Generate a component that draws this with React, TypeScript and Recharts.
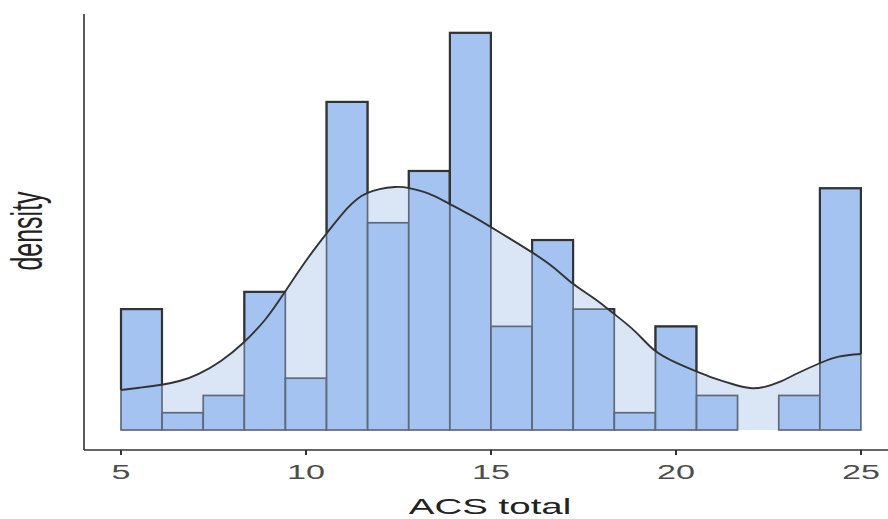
import React from 'react';
import { ComposedChart, XAxis, YAxis, Bar, Area, Line } from 'recharts';

// Histogram bins (ACS total), 18 bins from 5 to 25
const binLabels = ['5.0–6.1', '6.1–7.2', '7.2–8.3', '8.3–9.4', '9.4–10.6', '10.6–11.7', '11.7–12.8', '12.8–13.9', '13.9–15.0', '15.0–16.1', '16.1–17.2', '17.2–18.3', '18.3–19.4', '19.4–20.6', '20.6–21.7', '21.7–22.8', '22.8–23.9', '23.9–25.0'];
const binStarts = [5.0, 6.11, 7.22, 8.33, 9.44, 10.56, 11.67, 12.78, 13.89, 15.0, 16.11, 17.22, 18.33, 19.44, 20.56, 21.67, 22.78, 23.89];
const binCounts = [7, 1, 2, 8, 3, 19, 12, 15, 23, 6, 11, 7, 1, 6, 2, 0, 2, 14];
const binWidth = 20 / 18;

// Density curve (scaled to count units)
const densityX = [5.0, 5.5, 6.1, 6.6, 7.1, 7.7, 8.3, 8.9, 9.4, 10.0, 10.6, 11.1, 11.65, 12.4, 12.8, 13.3, 13.84, 14.4, 15.0, 15.5, 16.1, 16.7, 17.2, 17.8, 18.3, 18.9, 19.4, 20.0, 20.6, 21.0, 21.5, 22.0, 22.4, 22.8, 23.3, 23.9, 24.4, 25.0];
const densityY = [2.32, 2.45, 2.62, 2.85, 3.25, 4.0, 5.04, 6.4, 7.9, 9.8, 11.5, 12.8, 13.72, 14.07, 14.0, 13.7, 13.14, 12.5, 11.75, 11.1, 10.3, 9.4, 8.5, 7.6, 6.77, 5.7, 4.65, 3.9, 3.35, 3.02, 2.68, 2.43, 2.5, 2.78, 3.3, 3.88, 4.25, 4.4];

const xTicks = [5, 10, 15, 20, 25];

const histData = binLabels.map((bin, i) => ({ bin, start: binStarts[i], count: binCounts[i] }));
const densityData = densityX.map((x, i) => ({ x, d: densityY[i] }));

const interp = (xv: number) => {
  if (xv <= densityX[0]) return densityY[0];
  for (let i = 1; i < densityX.length; i++) {
    if (xv <= densityX[i]) {
      const t = (xv - densityX[i - 1]) / (densityX[i] - densityX[i - 1]);
      return densityY[i - 1] + t * (densityY[i] - densityY[i - 1]);
    }
  }
  return densityY[densityY.length - 1];
};

const FILL = '#A4C3F0';
const LIGHT = '#DAE5F6';
const DARK = '#333333';
const STRETCH = 1.75;
const FONT = '"Liberation Sans", Arial, sans-serif';

const BarShape = (props: any) => {
  const { x, y, width, height, index, payload } = props;
  if (!height || height <= 0 || !payload || !payload.count) return null;
  const base = y + height;
  const ppu = height / payload.count;
  const left = payload.start;
  const pts: string[] = [];
  const n = 8;
  const curve: [number, number][] = [];
  for (let k = 0; k <= n; k++) {
    const px = x + (k / n) * width;
    const py = base - interp(left + (k / n) * binWidth) * ppu;
    curve.push([px, py]);
  }
  pts.push(`${x - 4},${y - 6}`);
  pts.push(`${x + width + 4},${y - 6}`);
  pts.push(`${x + width + 4},${curve[n][1]}`);
  for (let k = n; k >= 0; k--) pts.push(`${curve[k][0]},${curve[k][1]}`);
  pts.push(`${x - 4},${curve[0][1]}`);
  const id = `barclip-${index}`;
  return (
    <g>
      <defs>
        <clipPath id={id}>
          <polygon points={pts.join(' ')} />
        </clipPath>
      </defs>
      <rect x={x} y={y} width={width} height={height} fill={FILL} stroke="#5E6A7C" strokeWidth={1.7} />
      <rect x={x} y={y} width={width} height={height} fill="none" stroke={DARK} strokeWidth={2.2} clipPath={`url(#${id})`} />
    </g>
  );
};

const Tick = (props: any) => {
  const { x, payload } = props;
  return (
    <text
      transform={`translate(${x},479) scale(${STRETCH},1)`}
      textAnchor="middle"
      fontSize={19.5}
      fill="#4D4D4D"
      fontFamily={FONT}
    >
      {payload.value}
    </text>
  );
};

export default function App() {
  return (
    <div style={{ position: 'absolute', left: 0, top: 0 }}>
      <ComposedChart
        width={888}
        height={519}
        data={histData}
        margin={{ top: 14, right: 0, bottom: 29, left: 83 }}
        barCategoryGap={0}
        barGap={0}
      >
        <XAxis
          xAxisId="bins"
          dataKey="bin"
          type="category"
          hide
          height={0}
          padding={{ left: 37, right: 27 }}
        />
        <XAxis
          xAxisId="num"
          dataKey="x"
          type="number"
          domain={[4, 25.73]}
          allowDataOverflow
          ticks={xTicks}
          height={40}
          axisLine={{ stroke: DARK, strokeWidth: 1.6 }}
          tickLine={{ stroke: DARK, strokeWidth: 2 }}
          tickSize={5}
          tick={<Tick />}
        />
        <YAxis
          type="number"
          domain={[-1.158, 24.09]}
          allowDataOverflow
          width={1}
          tick={false}
          tickLine={false}
          axisLine={{ stroke: DARK, strokeWidth: 1.6 }}
        />
        <Area
          xAxisId="num"
          data={densityData}
          dataKey="d"
          type="natural"
          fill={LIGHT}
          fillOpacity={1}
          stroke="none"
          baseValue={0}
          isAnimationActive={false}
        />
        <Bar xAxisId="bins" dataKey="count" shape={<BarShape />} isAnimationActive={false} />
        <Line
          xAxisId="num"
          data={densityData}
          dataKey="d"
          type="natural"
          stroke={DARK}
          strokeWidth={1.9}
          dot={false}
          activeDot={false}
          isAnimationActive={false}
        />
        <text
          transform={`translate(490,514) scale(${STRETCH},1)`}
          textAnchor="middle"
          fontSize={22}
          fill="#222222"
          fontFamily={FONT}
        >
          ACS total
        </text>
        <text
          transform={`translate(42,231) scale(${STRETCH},1) rotate(-90)`}
          textAnchor="middle"
          fontSize={25}
          fill="#222222"
          fontFamily={FONT}
        >
          density
        </text>
      </ComposedChart>
    </div>
  );
}
